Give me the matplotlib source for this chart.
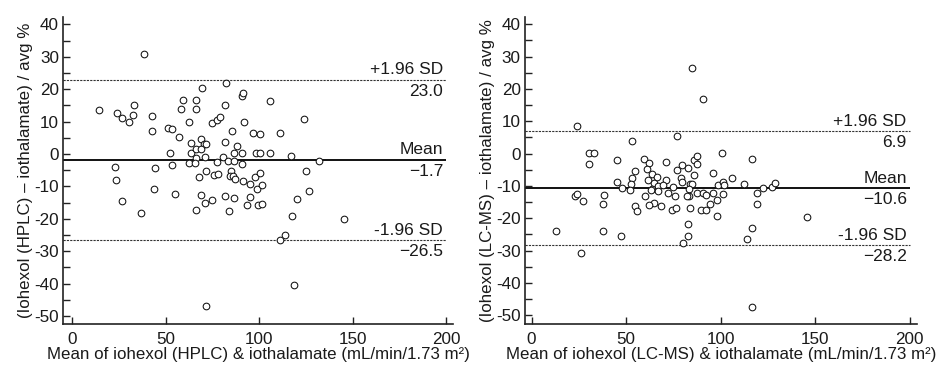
import matplotlib
matplotlib.use("Agg")
import matplotlib.pyplot as plt
from matplotlib.ticker import MultipleLocator, FuncFormatter

plt.rcParams['font.family'] = ['Liberation Sans', 'DejaVu Sans']

# ---------------- data ----------------
hplc_mean = [14.4, 23.9, 26.9, 30.7, 32.4, 33.0, 43.0, 43.0, 51.5, 53.5, 57.0, 58.3, 59.4, 66.1, 66.1,
             69.3, 62.6, 82.5, 81.6, 90.7, 91.3, 106.1, 74.9, 77.4, 79.0, 92.0, 85.7, 96.6, 100.7, 111.2,
             124.2, 63.5, 69.0, 70.6, 71.8, 82.0, 88.4, 52.6, 63.5, 66.3, 69.0, 86.6, 90.7, 98.2, 100.7,
             105.7, 117.1, 131.9, 66.3, 71.1, 62.6, 65.8, 77.4, 80.9, 83.6, 86.6, 91.1, 23.0, 44.6, 53.5,
             23.5, 71.7, 67.9, 76.1, 78.1, 85.2, 84.5, 85.9, 87.2, 91.6, 98.0, 100.7, 95.4, 98.9, 101.6,
             125.3, 126.9, 44.0, 54.9, 69.0, 26.7, 71.1, 74.9, 82.0, 86.6, 95.4, 93.8, 99.7, 101.6, 120.3,
             37.1, 66.5, 84.0, 117.8, 113.9, 111.4, 38.5, 145.6, 118.9, 71.5]
hplc_diff = [13.6, 12.6, 11.2, 9.9, 12.2, 15.2, 11.8, 7.2, 8.0, 7.7, 5.3, 13.9, 16.8, 16.8, 13.9,
             20.4, 9.9, 21.8, 15.0, 18.0, 18.9, 16.3, 9.7, 10.5, 11.5, 9.9, 7.2, 6.5, 6.2, 6.5,
             10.7, 3.5, 4.5, 3.1, 3.1, 3.8, 2.5, 0.3, 0.3, 1.5, 1.5, 0.3, 0.3, 0.3, 0.3,
             0.3, -0.5, -2.1, -1.3, -1.0, -2.9, -2.9, -2.4, -1.0, -2.2, -2.2, -3.2, -4.0, -4.2, -3.5,
             -8.1, -5.1, -7.2, -6.4, -6.1, -5.3, -6.9, -6.7, -7.7, -8.4, -7.0, -5.8, -9.4, -10.9, -9.5,
             -5.3, -11.3, -10.9, -12.4, -12.8, -14.5, -15.2, -14.3, -13.0, -13.5, -13.3, -15.6, -15.6, -15.3, -13.8,
             -18.3, -17.4, -17.5, -19.0, -24.9, -26.5, 30.9, -20.2, -40.6, -47.0]

lcms_mean = [24.2, 77.1, 52.9, 30.5, 33.0, 30.5, 45.3, 59.4, 62.2, 61.2, 71.1, 54.5, 53.3, 52.5, 45.0,
             47.6, 52.0, 61.5, 63.8, 66.5, 64.9, 71.1, 67.0, 69.7, 63.8, 63.0, 67.0, 72.3, 75.0, 76.0,
             60.0, 64.7, 68.4, 62.1, 54.5, 55.9, 74.4, 76.5, 77.1, 79.4, 78.8, 79.4, 82.9, 83.8, 85.0,
             83.2, 83.2, 82.4, 86.1, 85.9, 87.3, 87.3, 87.6, 90.5, 92.1, 83.8, 89.6, 92.1, 94.3, 96.1,
             98.8, 101.4, 101.9, 96.1, 101.4, 97.9, 98.2, 100.9, 105.8, 112.3, 116.7, 119.0, 119.0, 122.2, 127.1,
             128.7, 22.7, 23.8, 27.3, 38.4, 37.9, 37.6, 47.1, 82.9, 82.5, 79.9, 116.4, 113.7, 145.8,
             84.6, 90.5, 12.7, 26.0, 116.4]
lcms_diff = [8.6, 5.3, 4.0, 0.3, 0.3, -3.1, -1.9, -1.6, -2.9, -4.7, -2.7, -5.4, -7.5, -9.3, -8.8,
             -10.5, -11.4, -8.1, -6.2, -7.3, -9.0, -8.3, -10.0, -9.8, -10.9, -11.2, -11.7, -12.2, -10.4, -13.0,
             -13.1, -15.2, -16.1, -16.0, -16.2, -17.7, -17.4, -16.9, -5.0, -3.4, -7.5, -8.8, -4.6, -9.3, -9.3,
             -10.9, -13.1, -13.2, -6.7, -2.1, -0.9, -3.1, -12.2, -12.2, -12.7, -16.7, -17.6, -17.4, -15.7, -6.0,
             -9.8, -8.8, -9.6, -12.2, -12.5, -14.3, -19.2, 0.3, -7.5, -9.5, -1.6, -12.2, -15.7, -10.5, -10.2,
             -9.1, -13.1, -12.4, -14.6, -12.8, -15.7, -23.8, -25.4, -21.7, -25.4, -27.6, -23.0, -26.3, -19.7,
             26.3, 16.9, -23.8, -30.7, -47.3]

line_labels = ["+1.96 SD", "Mean", "-1.96 SD"]
hplc_lines = [23.0, -1.7, -26.5]
lcms_lines = [6.9, -10.6, -28.2]
hplc_line_text = ["23.0", "\u22121.7", "\u221226.5"]
lcms_line_text = ["6.9", "\u221210.6", "\u221228.2"]

xlabels = ["Mean of iohexol (HPLC) & iothalamate (mL/min/1.73 m\u00b2)",
           "Mean of iohexol (LC-MS) & iothalamate (mL/min/1.73 m\u00b2)"]
ylabels = ["(Iohexol (HPLC) \u2013 iothalamate) / avg %",
           "(Iohexol (LC-MS) \u2013 iothalamate) / avg %"]

# ---------------- figure ----------------
fig = plt.figure(figsize=(9.39, 3.65), dpi=100)
axes = [fig.add_axes([0.0674, 0.1123, 0.415, 0.841]),
        fig.add_axes([0.5591, 0.1123, 0.4175, 0.841])]
xlims = [(-4.65, 203.7), (-3.5, 203.9)]
ylims = [(-52.5, 42.3), (-52.7, 42.2)]

datasets = [(hplc_mean, hplc_diff, hplc_lines, hplc_line_text),
            (lcms_mean, lcms_diff, lcms_lines, lcms_line_text)]

FS = 12.5
FS_TICK = 12.3
FS_LAB = 12.2
for i, ax in enumerate(axes):
    xm, yd, lines, ltxt = datasets[i]
    ax.set_xlim(*xlims[i])
    ax.set_ylim(*ylims[i])
    x_end = 200
    for j, (val, lab, vt) in enumerate(zip(lines, line_labels, ltxt)):
        if j == 1:
            ax.hlines(val, xlims[i][0], x_end, colors='#111111', linewidth=1.4, zorder=2)
        else:
            ax.hlines(val, xlims[i][0], x_end, colors='#333333', linewidth=0.8,
                      linestyles=(0, (2.0, 1.0)), zorder=2)
        ax.annotate(lab, (198.4, val), xytext=(0, 1.5), textcoords='offset points',
                    ha='right', va='bottom', fontsize=FS, color='#1a1a1a')
        ax.annotate(vt, (198.4, val), xytext=(0, -3), textcoords='offset points',
                    ha='right', va='top', fontsize=FS, color='#1a1a1a')
    ax.plot(xm, yd, linestyle='none', marker='o', markersize=4.8, markerfacecolor='white',
            markeredgecolor='#111111', markeredgewidth=0.75, zorder=3)

    ax.spines['top'].set_visible(False)
    ax.spines['right'].set_visible(False)
    for s in ('left', 'bottom'):
        ax.spines[s].set_linewidth(1.2)
        ax.spines[s].set_color('#222222')
    ax.xaxis.set_major_locator(MultipleLocator(50))
    ax.yaxis.set_major_locator(MultipleLocator(10))
    ax.yaxis.set_minor_locator(MultipleLocator(5))
    ax.yaxis.set_major_formatter(FuncFormatter(lambda v, p: "%d" % round(v)))
    ax.tick_params(axis='both', which='major', direction='in', length=5, width=1.0,
                   labelsize=FS_TICK, color='#222222', labelcolor='#1a1a1a')
    ax.tick_params(axis='y', which='minor', direction='in', length=5, width=1.0, color='#222222')
    ax.tick_params(axis='y', which='major', pad=3)
    ax.tick_params(axis='x', which='major', pad=5.5)
    ax.set_xlabel(xlabels[i], fontsize=FS_LAB, labelpad=0.5, color='#1a1a1a')
    ax.set_ylabel(ylabels[i], fontsize=FS_LAB, labelpad=1, color='#1a1a1a')

fig.savefig("out.png", dpi=100)
